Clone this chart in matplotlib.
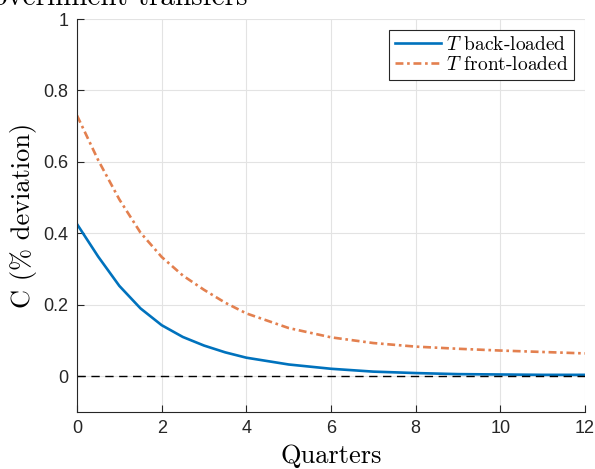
import numpy as np
import matplotlib.pyplot as plt

plt.rcParams['mathtext.fontset'] = 'cm'
plt.rcParams['axes.formatter.use_mathtext'] = True

# quarters and responses (% deviation of C)
quarters = [0, 0.5, 1, 1.5, 2, 2.5, 3, 3.5, 4, 5, 6, 7, 8, 9, 10, 11, 12]
back_loaded = [0.426, 0.335, 0.253, 0.190, 0.143, 0.110, 0.086, 0.067, 0.052,
               0.033, 0.021, 0.013, 0.009, 0.006, 0.005, 0.004, 0.004]
front_loaded = [0.730, 0.605, 0.495, 0.402, 0.334, 0.282, 0.242, 0.206, 0.176,
                0.135, 0.109, 0.093, 0.083, 0.077, 0.072, 0.068, 0.064]

xticks = [0, 2, 4, 6, 8, 10, 12]
yticks = [0, 0.2, 0.4, 0.6, 0.8, 1]

fig = plt.figure(figsize=(5.95, 4.69), dpi=100)
ax = fig.add_axes([77/595, 1-412/469, 508/595, 393/469])

ax.plot(quarters, back_loaded, color='#0072BD', lw=1.9,
        label=r'$T$ back-loaded')
ax.plot(quarters, front_loaded, color='#E3804F', lw=1.9,
        linestyle=(0, (3, 1.4, 1, 1.4)), label=r'$T$ front-loaded')
ax.axhline(0, color='black', lw=1.0, linestyle=(0, (6, 4)))

ax.set_xlim(0, 12)
ax.set_ylim(-0.1, 1)
ax.set_xticks(xticks)
ax.set_yticks(yticks)
ax.set_xticklabels([str(t) for t in xticks], family='Liberation Sans', fontsize=13)
ax.set_yticklabels([('%g' % t) for t in yticks], family='Liberation Sans', fontsize=13)
ax.tick_params(direction='in', length=5, width=0.8, color='#262626',
               labelcolor='#262626', pad=6)
ax.grid(True, color='#e3e3e3', lw=0.8)
ax.set_axisbelow(True)
ax.spines['top'].set_visible(False)
ax.spines['right'].set_visible(False)
for s in ['left', 'bottom']:
    ax.spines[s].set_color('#262626')
    ax.spines[s].set_linewidth(0.8)

ax.set_xlabel('Quarters', family='cmr10', fontsize=19, labelpad=5)
ax.set_ylabel('C (% deviation)', family='cmr10', fontsize=19, labelpad=5)

leg = ax.legend(loc='upper right', prop={'family': 'cmr10', 'size': 14},
                fancybox=False, edgecolor='#262626', framealpha=1,
                handlelength=2.4, handletextpad=0.25, borderpad=0.3,
                labelspacing=0.12, borderaxespad=0.55)
leg.get_frame().set_linewidth(0.8)

fig.text(248/595, 1-6/469, 'Government transfers', family='cmr10',
         fontsize=21, ha='right', va='baseline')

fig.savefig('out.png', dpi=100)
